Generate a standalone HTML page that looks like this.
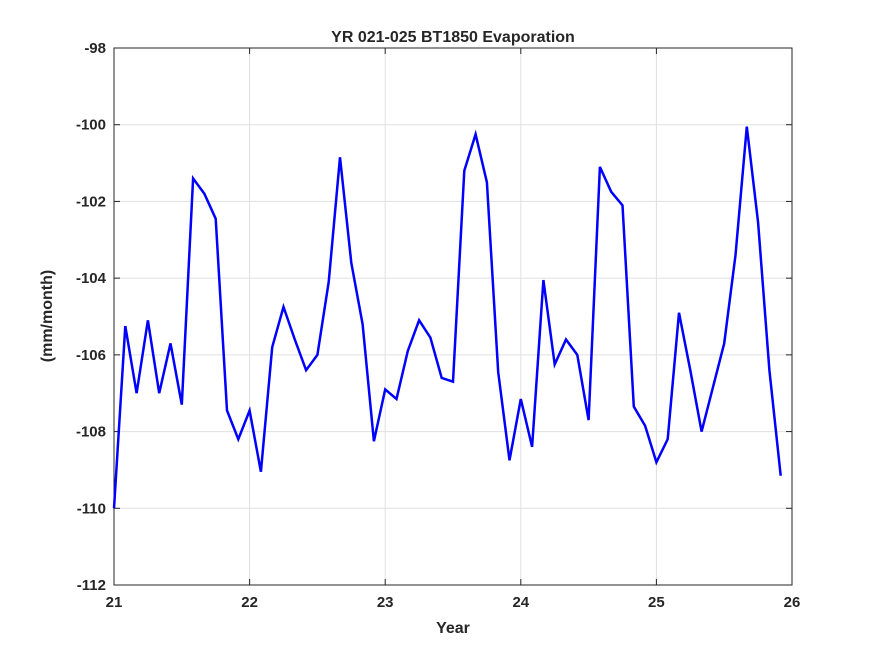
<!DOCTYPE html>
<html><head><meta charset="utf-8"><style>
body{margin:0;background:#fff;font-family:"Liberation Sans",sans-serif;}
svg text{font-family:"Liberation Sans",sans-serif;font-weight:bold;fill:#262626;}
</style></head><body>
<svg id="chart" width="875" height="656" xmlns="http://www.w3.org/2000/svg">
<rect width="875" height="656" fill="#fff"/>
<g id="grid"></g>
<g id="axes"></g>
<path id="line" fill="none" stroke="#0000ff" stroke-width="2.5"/>
<text x="453" y="42" text-anchor="middle" font-size="16">YR 021-025 BT1850 Evaporation</text>
<text x="453" y="633" text-anchor="middle" font-size="16">Year</text>
<text transform="translate(52,316) rotate(-90)" text-anchor="middle" font-size="16">(mm/month)</text>
</svg>
<script>
const xTicks=[21,22,23,24,25,26];
const yTicks=[-112,-110,-108,-106,-104,-102,-100,-98];
const values=[-110.0,-105.25,-107.0,-105.1,-107.0,-105.7,-107.3,-101.4,-101.8,-102.45,-107.45,-108.2,
-107.45,-109.05,-105.8,-104.75,-105.6,-106.4,-106.0,-104.1,-100.85,-103.6,-105.2,-108.25,
-106.9,-107.15,-105.9,-105.1,-105.55,-106.6,-106.7,-101.2,-100.25,-101.5,-106.45,-108.75,
-107.15,-108.4,-104.05,-106.25,-105.6,-106.0,-107.7,-101.1,-101.75,-102.1,-107.35,-107.85,
-108.8,-108.2,-104.9,-106.4,-108.0,-106.85,-105.7,-103.4,-100.05,-102.55,-106.4,-109.15];
const startYear=21;
const L=114,R=792,T=48,B=585;
const xs=v=>L+(v-21)/5*(R-L);
const ys=v=>B-(v+112)/14*(B-T);
const NS="http://www.w3.org/2000/svg";
const grid=document.getElementById('grid'),axes=document.getElementById('axes');
function mk(tag,at,parent){const e=document.createElementNS(NS,tag);for(const k in at)e.setAttribute(k,at[k]);parent.appendChild(e);return e;}
xTicks.forEach(t=>{
 const l=mk('line',{x1:xs(t),x2:xs(t),y1:T,y2:B,stroke:'#e0e0e0','stroke-width':1},grid);
 
 
 const tx=mk('text',{x:xs(t),y:B+22,'text-anchor':'middle','font-size':15},axes);
 tx.textContent=t;
 
 
 mk('line',{x1:xs(t),x2:xs(t),y1:B,y2:B-6,stroke:'#262626'},axes);
 mk('line',{x1:xs(t),x2:xs(t),y1:T,y2:T+6,stroke:'#262626'},axes);
});
yTicks.forEach(t=>{
 const l=mk('line',{x1:L,x2:R,y1:ys(t),y2:ys(t),stroke:'#e0e0e0','stroke-width':1},grid);
 
 
 const tx=mk('text',{x:L-8,y:ys(t)+5,'text-anchor':'end','font-size':15},axes);
 tx.textContent=t;
 
 
 mk('line',{x1:L,x2:L+6,y1:ys(t),y2:ys(t),stroke:'#262626'},axes);
 mk('line',{x1:R,x2:R-6,y1:ys(t),y2:ys(t),stroke:'#262626'},axes);
});
const box=mk('rect',{x:L,y:T,width:R-L,height:B-T,fill:'none',stroke:'#262626','stroke-width':1},axes);


document.getElementById('line').setAttribute('d',values.map((v,i)=>(i?'L':'M')+xs(startYear+i/12).toFixed(1)+','+ys(v).toFixed(1)).join(''));
</script>
</body></html>
